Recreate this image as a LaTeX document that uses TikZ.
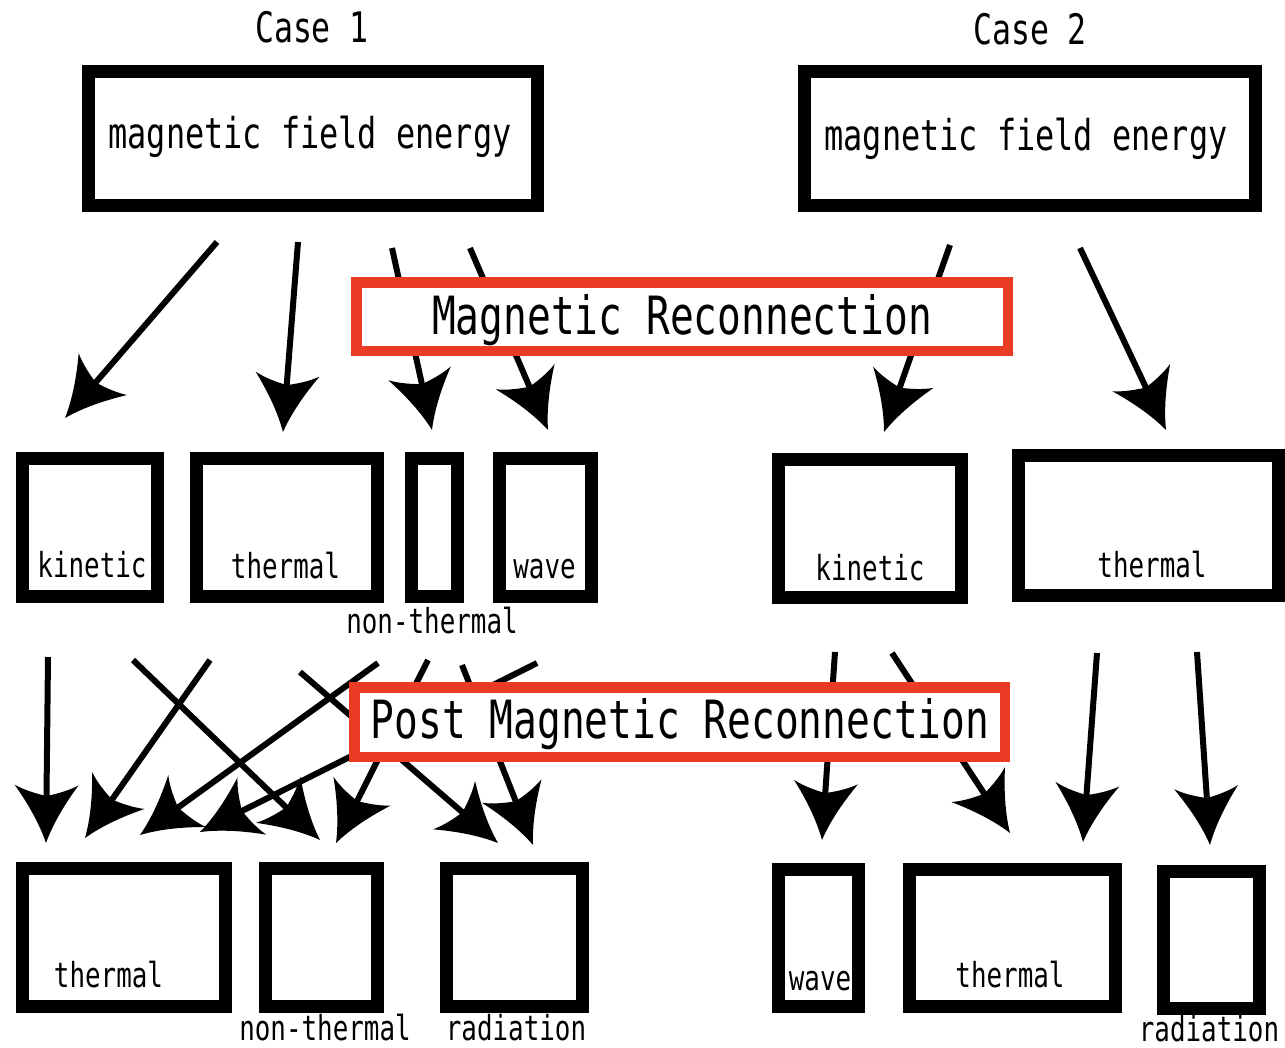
\documentclass[tikz,border=0pt]{standalone}
\usepackage{fontspec}
\newfontfamily\gfont[FakeStretch=0.75]{DejaVu Sans Mono}
\usetikzlibrary{arrows.meta}
\definecolor{recred}{RGB}{234,59,37}
\pgfdeclarearrow{
  name = Flare,
  setup code = {
    \pgfarrowssettipend{0pt}
    \pgfarrowssetlineend{-40pt}
    \pgfarrowssetbackend{-58pt}
    \pgfarrowshullpoint{0pt}{0pt}
    \pgfarrowsupperhullpoint{-58pt}{32pt}
  },
  drawing code = {
    \pgfpathmoveto{\pgfqpoint{0pt}{0pt}}
    \pgfpathcurveto{\pgfqpoint{-20pt}{7pt}}{\pgfqpoint{-40pt}{19pt}}{\pgfqpoint{-58pt}{32pt}}
    \pgfpathcurveto{\pgfqpoint{-52pt}{21pt}}{\pgfqpoint{-49pt}{9pt}}{\pgfqpoint{-47pt}{0pt}}
    \pgfpathcurveto{\pgfqpoint{-49pt}{-9pt}}{\pgfqpoint{-52pt}{-21pt}}{\pgfqpoint{-58pt}{-32pt}}
    \pgfpathcurveto{\pgfqpoint{-40pt}{-19pt}}{\pgfqpoint{-20pt}{-7pt}}{\pgfqpoint{0pt}{0pt}}
    \pgfpathclose
    \pgfusepathqfill
  }
}
\tikzset{
  box/.style={draw=black, line width=13pt, inner sep=0pt, rectangle},
  redbox/.style={draw=recred, line width=10.5pt, fill=white, inner sep=0pt, rectangle},
  lab/.style={font=\gfont\fontsize{34.5pt}{40pt}\selectfont, inner sep=0pt, anchor=base},
  titletext/.style={font=\gfont\fontsize{42pt}{48pt}\selectfont, inner sep=0pt, anchor=base},
  mfetext/.style={font=\gfont\fontsize{42.5pt}{48pt}\selectfont, inner sep=0pt, anchor=base},
  redtext/.style={font=\gfont\fontsize{52.7pt}{60pt}\selectfont, inner sep=0pt, anchor=base},
  conn/.style={line width=6pt, -{Flare}},
}
\begin{document}
\begin{tikzpicture}[x=1pt,y=-1pt]
\useasboundingbox (0,0) rectangle (1285,1047);
% titles
\node[titletext] (case1) at (312,42) {Case 1};
\node[titletext] (case2) at (1030,44) {Case 2};
% top boxes
\node[box, minimum width=449pt, minimum height=134pt] (top1) at (313,138.5) {};
\node[box, minimum width=451pt, minimum height=134pt] (top2) at (1030,138.5) {};
\node[mfetext] (top1t) at (310,148) {magnetic field energy};
\node[mfetext] (top2t) at (1026,150) {magnetic field energy};
% middle boxes case 1
\node[box, minimum width=135pt, minimum height=138pt] (kin1) at (90,527.5) {};
\node[box, minimum width=181pt, minimum height=138pt] (th1) at (287,527.5) {};
\node[box, minimum width=46pt, minimum height=138pt] (nt1) at (434.5,527.5) {};
\node[box, minimum width=92pt, minimum height=138pt] (wave1) at (545.5,527.5) {};
\node[lab] (kin1t) at (92,577) {kinetic};
\node[lab] (th1t) at (285.5,578) {thermal};
\node[lab] (nt1t) at (432,633) {non-thermal};
\node[lab] (wave1t) at (544.5,578) {wave};
% middle boxes case 2
\node[box, minimum width=183pt, minimum height=138pt] (kin2) at (870,528.5) {};
\node[box, minimum width=260pt, minimum height=140pt] (th2) at (1148.5,525.5) {};
\node[lab] (kin2t) at (870,580) {kinetic};
\node[lab] (th2t) at (1152,577) {thermal};
% bottom boxes case 1
\node[box, minimum width=203pt, minimum height=138pt] (th3) at (124,937.5) {};
\node[box, minimum width=112pt, minimum height=138pt] (nt3) at (321.5,937.5) {};
\node[box, minimum width=136pt, minimum height=138pt] (rad1) at (514.5,937.5) {};
\node[lab] (th3t) at (108.5,987) {thermal};
\node[lab] (nt3t) at (325,1040) {non-thermal};
\node[lab] (rad1t) at (516,1040) {radiation};
% bottom boxes case 2
\node[box, minimum width=80pt, minimum height=137pt] (wave2) at (818.5,938) {};
\node[box, minimum width=206pt, minimum height=137pt] (th4) at (1012.5,938) {};
\node[box, minimum width=96pt, minimum height=137pt] (rad2) at (1211.5,940) {};
\node[lab] (wave2t) at (820,990) {wave};
\node[lab] (th4t) at (1010,987) {thermal};
\node[lab] (rad2t) at (1209,1041) {radiation};
% connector end points
\coordinate (a1s) at (217,242); \coordinate (a1e) at (65,418);
\coordinate (a2s) at (298,242); \coordinate (a2e) at (283,432);
\coordinate (a3s) at (392,248); \coordinate (a3e) at (432,430);
\coordinate (a4s) at (470,248); \coordinate (a4e) at (548,430);
\coordinate (a5s) at (950,245); \coordinate (a5e) at (884,432);
\coordinate (a6s) at (1080,248); \coordinate (a6e) at (1166,430);
\coordinate (b1s) at (48,657); \coordinate (b1e) at (46,843);
\coordinate (b2s) at (133,660); \coordinate (b2e) at (320,840);
\coordinate (b3s) at (210,660); \coordinate (b3e) at (85,838);
\coordinate (b4s) at (300,672); \coordinate (b4e) at (498,843);
\coordinate (b5s) at (378,663); \coordinate (b5e) at (140,835);
\coordinate (b6s) at (537,663); \coordinate (b6e) at (200,832);
\coordinate (b7s) at (428,660); \coordinate (b7e) at (336,843);
\coordinate (b8s) at (462,665); \coordinate (b8e) at (533,845);
\coordinate (c1s) at (835,652); \coordinate (c1e) at (822,840);
\coordinate (c2s) at (892,653); \coordinate (c2e) at (1010,833);
\coordinate (c3s) at (1097,653); \coordinate (c3e) at (1083,842);
\coordinate (c4s) at (1197,652); \coordinate (c4e) at (1210,845);
% connectors
\foreach \n in {a1,a2,a3,a4,a5,a6,b1,b2,b3,b4,b5,b6,b7,b8,c1,c2,c3,c4}
  \draw[conn] (\n s) -- (\n e);
% red boxes over the connectors
\node[redbox, minimum width=651.5pt, minimum height=68.5pt] (mr) at (682,316.5) {};
\node[redtext] (mrt) at (682,334) {Magnetic Reconnection};
\node[redbox, minimum width=650.5pt, minimum height=69.5pt] (pmr) at (679.5,722) {};
\node[redtext] (pmrt) at (680,738) {Post Magnetic Reconnection};
\end{tikzpicture}
\end{document}
